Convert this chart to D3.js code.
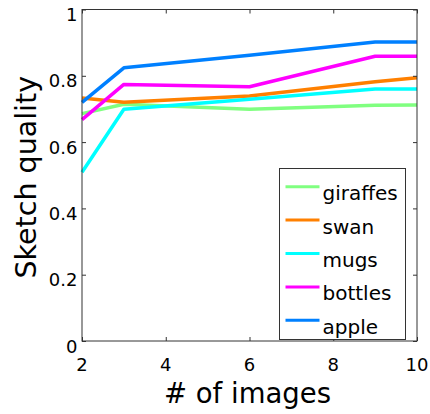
<!DOCTYPE html>
<html>
<head>
<meta charset="utf-8">
<script src="https://cdn.jsdelivr.net/npm/d3@7"></script>
<style>
      html, body { margin: 0; padding: 0; background: #fff; }
      svg text { font-family: "DejaVu Sans", sans-serif; fill: #000; }
</style>
</head>
<body>
<svg id="chart" width="430" height="414"></svg>
<script>
var imageCounts = [2, 3, 6, 9, 10];
var seriesNames = ['giraffes', 'swan', 'mugs', 'bottles', 'apple'];
var seriesColors = ['#80ff80', '#ff8000', '#00ffff', '#ff00ff', '#0080ff'];
var giraffes = [0.686, 0.714, 0.699, 0.711, 0.712];
var swan = [0.733, 0.720, 0.739, 0.782, 0.794];
var mugs = [0.509, 0.699, 0.729, 0.760, 0.760];
var bottles = [0.668, 0.774, 0.767, 0.859, 0.859];
var apple = [0.720, 0.824, 0.862, 0.902, 0.902];
var xTicks = [2, 4, 6, 8, 10];
var yTicks = [0, 0.2, 0.4, 0.6, 0.8, 1];

(function () {
      'use strict';

      var seriesValues = [giraffes, swan, mugs, bottles, apple];
      var data = seriesNames.map(function(name, i) {
            return {
                  name: name,
                  color: seriesColors[i],
                  points: imageCounts.map(function(n, j) { return { x: n, y: seriesValues[i][j] }; })
            };
      });

      var left = 82, right = 417, top = 9.5, bottom = 341;
      var svg = d3.select('#chart');

      var x = d3.scaleLinear().domain([2, 10]).range([left, right]);
      var y = d3.scaleLinear().domain([0, 1]).range([bottom, top]);

      // data lines, drawn first so the box sits on top
      var line = d3.line()
            .x(function(d) { return x(d.x); })
            .y(function(d) { return y(d.y); });

      svg.append('g').selectAll('path')
            .data(data)
            .enter().append('path')
            .attr('d', function(d) { return line(d.points); })
            .attr('fill', 'none')
            .attr('stroke', function(d) { return d.color; })
            .attr('stroke-width', 3.5)
            .attr('stroke-linejoin', 'round');

      // inward ticks on all four sides, matlab style
      function tickAxis(axis, transform) {
            var g = svg.append('g').attr('transform', transform).call(axis);
            g.select('.domain').remove();
            g.selectAll('.tick line').attr('stroke', '#333');
            g.selectAll('.tick text').remove();
      }
      tickAxis(d3.axisBottom(x).tickValues(xTicks).tickSizeInner(-4), 'translate(0,' + bottom + ')');
      tickAxis(d3.axisTop(x).tickValues(xTicks).tickSizeInner(-4), 'translate(0,' + top + ')');
      tickAxis(d3.axisLeft(y).tickValues(yTicks).tickSizeInner(-4), 'translate(' + left + ',0)');
      tickAxis(d3.axisRight(y).tickValues(yTicks).tickSizeInner(-4), 'translate(' + right + ',0)');

      svg.append('rect')
            .attr('x', left).attr('y', top)
            .attr('width', right - left).attr('height', bottom - top)
            .attr('fill', 'none')
            .attr('stroke', '#333')
            .attr('stroke-width', 1);

      svg.append('g').selectAll('text')
            .data(xTicks)
            .enter().append('text')
            .attr('x', function(d) { return x(d); })
            .attr('y', bottom + 30)
            .attr('text-anchor', 'middle')
            .style('font-size', '18px')
            .text(function(d) { return d; });

      svg.append('g').selectAll('text')
            .data(yTicks)
            .enter().append('text')
            .attr('x', left - 4.5)
            .attr('y', function(d) { return y(d) + 11.5; })
            .attr('text-anchor', 'end')
            .style('font-size', '18px')
            .text(function(d) { return d; });

      svg.append('text')
            .attr('x', (left + right) / 2 - 2)
            .attr('y', 403)
            .attr('text-anchor', 'middle')
            .style('font-size', '27.5px')
            .text('# of images');

      svg.append('text')
            .attr('transform', 'translate(35.5,' + ((top + bottom) / 2 + 2) + ') rotate(-90)')
            .attr('text-anchor', 'middle')
            .style('font-size', '28.5px')
            .text('Sketch quality');

      // legend box
      var legend = svg.append('g').attr('transform', 'translate(279.5,168.5)');
      legend.append('rect')
            .attr('width', 126)
            .attr('height', 171)
            .attr('fill', '#fff')
            .attr('stroke', '#333')
            .attr('stroke-width', 1);

      var items = legend.selectAll('g.item')
            .data(data)
            .enter().append('g')
            .attr('transform', function(d, i) { return 'translate(0,' + (18.2 + i * 33.4) + ')'; });
      items.append('line')
            .attr('x1', 6).attr('x2', 40)
            .attr('stroke', function(d) { return d.color; })
            .attr('stroke-width', 3);
      items.append('text')
            .attr('x', 43)
            .attr('y', 13.5)
            .style('font-size', '20px')
            .text(function(d) { return d.name; });
})();
</script>
</body>
</html>
